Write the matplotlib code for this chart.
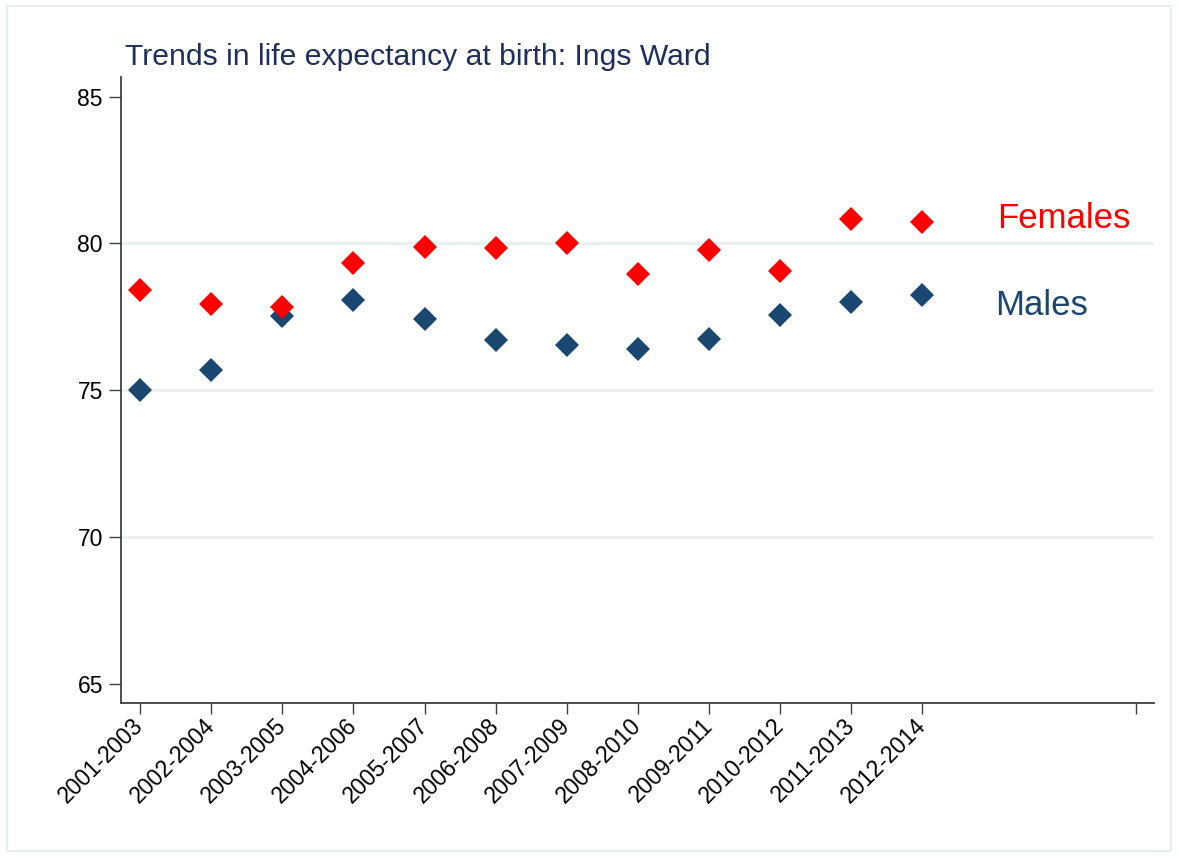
# coding: utf-8

import numpy as np
import matplotlib.pyplot as plt
from matplotlib.patches import Rectangle

periods = ["2001-2003", "2002-2004", "2003-2005", "2004-2006", "2005-2007", "2006-2008",
           "2007-2009", "2008-2010", "2009-2011", "2010-2012", "2011-2013", "2012-2014"]
females = [78.41, 77.95, 77.82, 79.35, 79.88, 79.84, 80.01, 78.95, 79.79, 79.07, 80.84, 80.74]
males = [75.00, 75.68, 77.53, 78.09, 77.42, 76.70, 76.55, 76.39, 76.75, 77.58, 78.01, 78.24]
yTicks = [65, 70, 75, 80, 85]
gridValues = [70, 75, 80]

red = "#ff0000"
navy = "#1a476f"
titleColor = "#1e2f5c"
axisColor = "#404040"

plt.rcParams['font.family'] = ['Liberation Sans', 'DejaVu Sans']

fig = plt.figure(figsize=(11.79, 8.59), dpi=100)
ax = fig.add_axes([0.1026, 0.1820, 0.9791 - 0.1026, 0.9107 - 0.1820])

x = np.arange(len(periods))

for g in gridValues:
    ax.axhline(g, color="#e9f0f2", linewidth=2.0, zorder=0)

ax.plot(x, males, linestyle="none", marker="D", markersize=12, markeredgewidth=0,
        color=navy, zorder=3)
ax.plot(x, females, linestyle="none", marker="D", markersize=12, markeredgewidth=0,
        color=red, zorder=4)

ax.text(12.05, 80.53, "Females", color=red, fontsize=25, ha="left", va="baseline")
ax.text(12.02, 77.58, "Males", color=navy, fontsize=25, ha="left", va="baseline")

ax.set_xlim(-0.267, 14.26)
ax.set_ylim(64.36, 85.68)

ax.set_yticks(yTicks)
ax.set_yticklabels([str(v) for v in yTicks], fontsize=16.5)
ax.set_xticks(list(x) + [14])
ax.set_xticklabels(periods + [""], fontsize=16.5, rotation=45, ha="right", va="center",
                   rotation_mode="anchor")

for side in ["top", "right"]:
    ax.spines[side].set_visible(False)
for side in ["left", "bottom"]:
    ax.spines[side].set_color(axisColor)
    ax.spines[side].set_linewidth(1.3)

ax.tick_params(axis="y", length=8.5, width=1.0, color=axisColor, pad=4.5)
ax.tick_params(axis="x", length=8.0, width=1.0, color=axisColor, pad=6)

fig.text(125 / 1179, 1 - 65 / 859, "Trends in life expectancy at birth: Ings Ward",
         color=titleColor, fontsize=21.7, ha="left", va="baseline")

# light frame around the whole graph
fig.patches.append(Rectangle((7 / 1179, 1 - 851 / 859), 1164 / 1179, 845 / 859,
                             transform=fig.transFigure, fill=False,
                             edgecolor="#e6eef0", linewidth=1.5))

plt.savefig("out.png", dpi=100)
plt.close()
